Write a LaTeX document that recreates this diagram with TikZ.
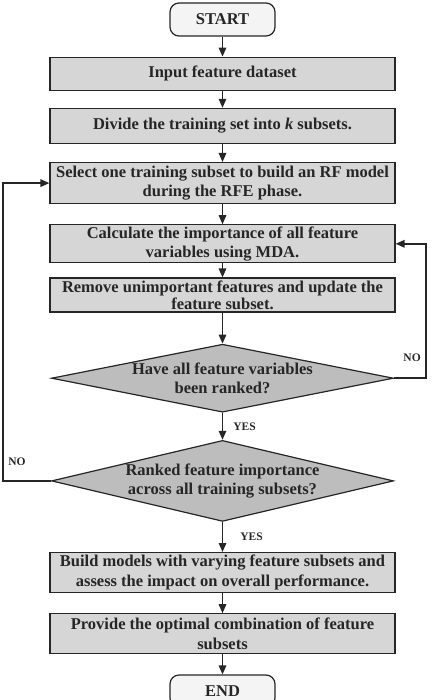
\documentclass[tikz,border=0pt]{standalone}
\usepackage{fontspec}
\setmainfont{Liberation Serif}
\usetikzlibrary{positioning,arrows.meta,shapes.geometric,calc}
\definecolor{boxfill}{HTML}{D6D6D6}
\definecolor{decfill}{HTML}{BDBDBD}
\definecolor{termfill}{HTML}{F4F4F4}
\definecolor{ink}{HTML}{262626}

\begin{document}
\begin{tikzpicture}[
  font=\fontsize{16.5}{19.5}\selectfont\bfseries,
  procbox/.style={draw=ink,fill=boxfill,line width=1.2pt,minimum width=345pt,align=center,inner sep=1pt,text=ink},
  termbox/.style={draw=ink,fill=termfill,rounded corners=9pt,line width=1.2pt,minimum width=105pt,minimum height=33pt,text=ink},
  decision/.style={diamond,draw=ink,fill=decfill,line width=1.2pt,minimum width=342pt,inner sep=0pt},
  dtext/.style={align=center,text=ink},
  tag/.style={font=\fontsize{11.5}{13}\selectfont\bfseries,text=ink,inner sep=0pt},
  arr/.style={-{Triangle[length=9pt,width=7.5pt]},line width=1.6pt,ink}
]
\useasboundingbox (0,0) rectangle (432pt,-700pt);
\node[termbox] (start) at (222.5pt,-19.5pt) {START};
\node[procbox,minimum height=33pt,below=20pt of start] (input) {Input feature dataset};
\node[procbox,minimum height=35pt,below=17pt of input] (divide) {Divide the training set into \textit{k} subsets.};
\node[procbox,minimum height=41pt,below=18pt of divide] (select) {Select one training subset to build an RF model\\during the RFE phase.};
\node[procbox,minimum height=38pt,below=20pt of select] (calc) {Calculate the importance of all feature\\variables using MDA.};
\node[procbox,minimum height=34pt,below=14pt of calc,font=\fontsize{16.5}{17}\selectfont\bfseries] (remove) {Remove unimportant features and update the\\feature subset.};
\node[decision,minimum height=68pt,below=31pt of remove] (rankvar) {};
\node[dtext] at (rankvar) {Have all feature variables\\been ranked?};
\node[decision,minimum height=81pt,below=27pt of rankvar] (rankall) {};
\node[dtext] at (rankall) {Ranked feature importance\\across all training subsets?};
\node[procbox,minimum height=40pt,below=30pt of rankall] (build) {Build models with varying feature subsets and\\assess the impact on overall performance.};
\node[procbox,minimum height=40pt,below=20pt of build] (provide) {Provide the optimal combination of feature\\subsets};
\node[termbox,minimum height=32pt,below=20pt of provide] (end) {END};

\draw[arr] (start) -- (input);
\draw[arr] (input) -- (divide);
\draw[arr] (divide) -- (select);
\draw[arr] (select) -- (calc);
\draw[arr] (calc) -- (remove);
\draw[arr] (remove) -- (rankvar);
\draw[arr] (rankvar) -- node[tag,right=10pt] {YES} (rankall);
\draw[arr] (rankall) -- node[tag,right=17pt] {YES} (build);
\draw[arr] (build) -- (provide);
\draw[arr] (provide) -- (end);

% loops back
\coordinate (rloop) at ($(rankvar.east)+(32pt,0)$);
\coordinate (lloop) at ($(rankall.west)+(-48pt,0)$);
\draw[arr] (rankvar.east) -- (rloop) |- (calc.east);
\draw[arr] (rankall.west) -- (lloop) |- (select.west);
\node[tag] (nor) at ($(rloop)+(-14pt,20pt)$) {NO};
\node[tag] (nol) at ($(lloop)+(14pt,19pt)$) {NO};
\end{tikzpicture}
\end{document}
